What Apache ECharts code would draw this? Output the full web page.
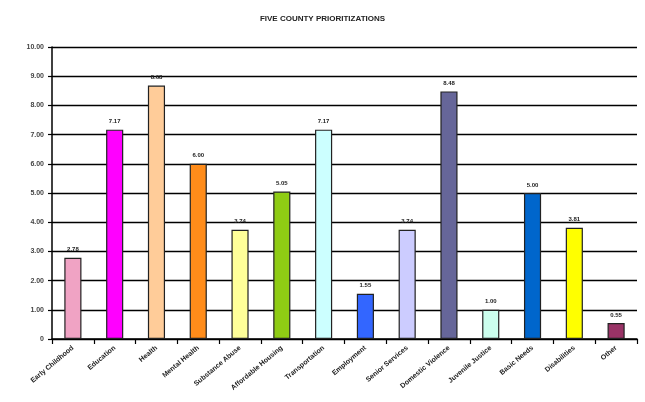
<!DOCTYPE html>
<html>
<head>
<meta charset="utf-8">
<script src="https://cdn.jsdelivr.net/npm/echarts@6/dist/echarts.min.js"></script>
<style>
html,body{margin:0;padding:0;background:#fff;}
#chart{width:645px;height:402px;}
</style>
</head>
<body>
<div id="chart"></div>
<script>
var title = "FIVE COUNTY PRIORITIZATIONS";
var categories = ["Early Childhood", "Education", "Health", "Mental Health", "Substance Abuse", "Affordable Housing", "Transportation", "Employment", "Senior Services", "Domestic Violence", "Juvenile Justice", "Basic Needs", "Disabilities", "Other"];
var values = [2.78, 7.17, 8.68, 6.0, 3.74, 5.05, 7.17, 1.55, 3.74, 8.48, 1.0, 5.0, 3.81, 0.55];
var barColors = ["#f0a3c4", "#ff00ff", "#ffcc99", "#ff8c1a", "#ffff99", "#8fcc14", "#ccffff", "#3366ff", "#ccccff", "#666699", "#ccffee", "#0066cc", "#ffff00", "#993366"];
var yMin = 0, yMax = 10, yStep = 1;

var chart = echarts.init(document.getElementById('chart'), null, {renderer: 'canvas'});
chart.setOption({
  animation: false,
  backgroundColor: '#ffffff',
  title: {
    text: title, left: 'center', top: 10,
    textStyle: {fontFamily: 'Liberation Sans', fontSize: 8, fontWeight: 'bold', color: '#222'}
  },
  grid: {left: 52, right: 8, top: 47, bottom: 63, containLabel: false},
  xAxis: {
    type: 'category', data: categories,
    axisLine: {lineStyle: {color: '#000', width: 1.5}},
    axisTick: {show: true, length: 5, lineStyle: {color: '#000', width: 1.2}},
    axisLabel: {rotate: 40, interval: 0, fontFamily: 'Liberation Sans', fontSize: 7, fontWeight: 'bold', color: '#222', margin: 8}
  },
  yAxis: {
    type: 'value', min: yMin, max: yMax, interval: yStep,
    axisLine: {show: true, lineStyle: {color: '#000', width: 1.5}},
    axisTick: {show: true, length: 4, lineStyle: {color: '#000', width: 1.2}},
    splitLine: {lineStyle: {color: '#000', width: 1.3}},
    axisLabel: {
      fontFamily: 'Liberation Sans', fontSize: 7, fontWeight: 'bold', color: '#444', margin: 8,
      formatter: function (v) { return v === 0 ? '0' : v.toFixed(2); }
    }
  },
  series: [{
    type: 'bar', barWidth: '41%',
    data: values.map(function (v, i) {
      return {value: v, itemStyle: {color: barColors[i], borderColor: '#222', borderWidth: 1.2}};
    }),
    label: {
      show: true, position: 'top', distance: 5,
      fontFamily: 'Liberation Sans', fontSize: 6, fontWeight: 'bold', color: '#222',
      formatter: function (p) { return p.value.toFixed(2); }
    }
  }]
});
</script>
</body>
</html>
